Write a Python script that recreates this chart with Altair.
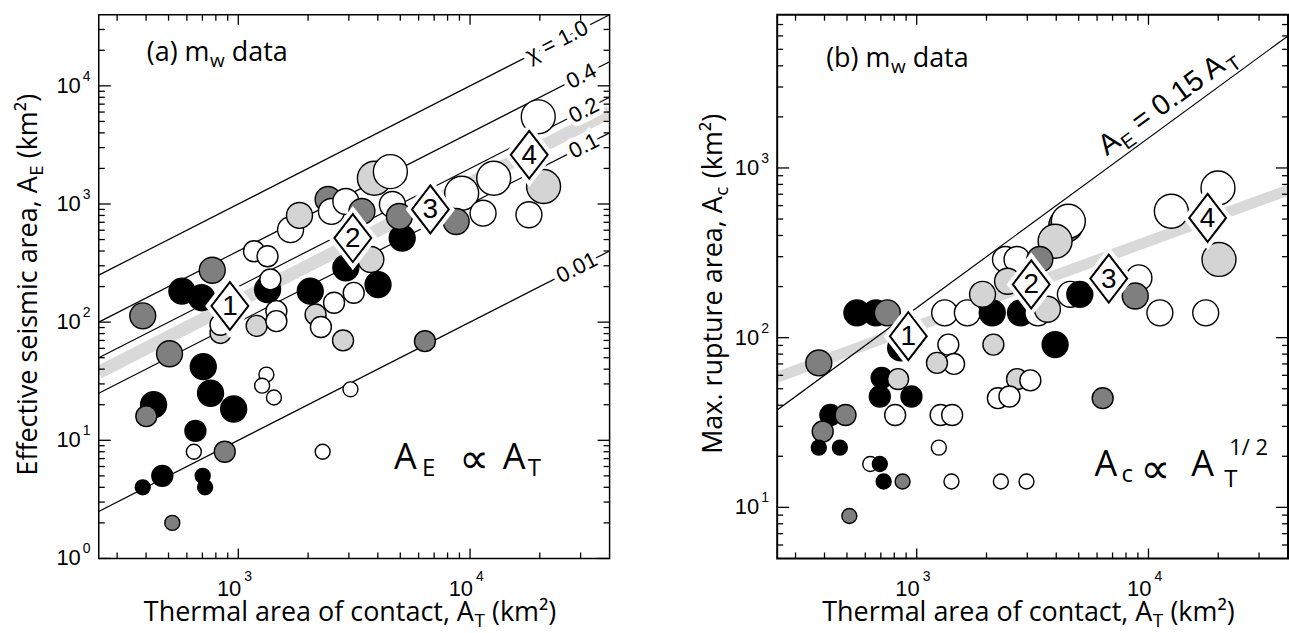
import altair as alt
import pandas as pd

# ---------------------------------------------------------------------------
# m_w earthquake data, areas in km^2
# shade: k = black, d = dark grey, l = light grey, w = white
# mag:   symbol class, 1 (smallest) ... 4 (largest)
# ---------------------------------------------------------------------------
a_thermal = [387, 571, 695, 772, 505, 706, 838, 838, 1200, 1460, 1460, 1337, 1375, 1169, 1337,
             1681, 1837, 2044, 2155, 2272, 2831, 2589, 3148, 2911, 3732, 4008, 5096, 6387, 1322, 1267,
             1425, 3048, 431, 401, 759, 955, 653, 643, 874, 2312, 470, 387, 702, 719, 519,
             2441, 2523, 2911, 3415, 3865, 4530, 4624, 4955, 8710, 9200, 11380, 12650, 17950, 19690, 20760]
a_seismic = [113, 183, 161, 275, 54, 42, 81, 95, 93, 124, 102, 189, 230, 398, 361,
             606, 800, 183, 116, 91, 70, 146, 177, 288, 339, 208, 515, 69, 36, 29,
             23, 27, 20, 16, 25, 18.4, 12, 8, 8, 8, 5, 4, 5, 4, 2,
             1091, 865, 1050, 865, 1651, 1879, 990, 785, 711, 1233, 836, 1651, 811, 5470, 1406]
a_shade = ['d', 'k', 'k', 'd', 'd', 'k', 'l', 'w', 'l', 'w', 'w', 'k', 'w', 'w', 'w',
           'w', 'l', 'k', 'l', 'w', 'l', 'w', 'w', 'k', 'l', 'k', 'k', 'd', 'w', 'w',
           'w', 'w', 'k', 'd', 'k', 'k', 'k', 'w', 'd', 'w', 'k', 'k', 'k', 'k', 'd',
           'd', 'w', 'w', 'd', 'l', 'w', 'w', 'd', 'd', 'w', 'w', 'w', 'w', 'w', 'l']
a_mag = [3, 3, 3, 3, 3, 3, 2, 2, 2, 2, 2, 3, 2, 2, 2,
         3, 3, 3, 2, 2, 2, 2, 2, 3, 3, 3, 3, 2, 1, 1,
         1, 1, 3, 2, 3, 3, 2, 1, 2, 1, 2, 1, 1, 1, 1,
         3, 3, 3, 3, 4, 4, 3, 3, 3, 4, 3, 4, 3, 4, 4]

b_thermal = [378, 552, 667, 747, 853, 1320, 1654, 2118, 1923, 1369, 1449, 1223, 2142, 2416, 2709,
             2466, 3398, 2805, 3334, 3664, 4400, 4510, 3955, 4603, 5055, 3955, 9095, 8767, 11200, 17660,
             20150, 12550, 19950, 2709, 3092, 2240, 2512, 6346, 706, 831, 693, 949, 807, 424, 493,
             393, 378, 466, 1268, 1422, 1246, 630, 693, 720, 869, 1412, 2307, 2976, 512]
b_rupture = [71, 140, 140, 140, 87, 140, 140, 140, 180, 91, 70, 71, 91, 289, 289,
             215, 289, 140, 140, 147, 460, 486, 370, 180, 180, 91, 225, 176, 140, 140,
             289, 556, 762, 57, 56, 44, 45, 44, 58, 57, 45, 45, 35, 35, 35,
             28, 22.5, 22.5, 35, 35, 22.5, 18, 18, 14.2, 14.2, 14.2, 14.2, 14.2, 8.9]
b_shade = ['d', 'k', 'k', 'd', 'k', 'w', 'w', 'k', 'l', 'w', 'w', 'l', 'l', 'w', 'w',
           'l', 'd', 'k', 'w', 'l', 'd', 'w', 'l', 'w', 'k', 'k', 'w', 'd', 'w', 'w',
           'l', 'w', 'w', 'l', 'w', 'w', 'w', 'd', 'k', 'l', 'k', 'k', 'w', 'k', 'd',
           'd', 'k', 'k', 'w', 'w', 'w', 'w', 'k', 'k', 'd', 'w', 'w', 'w', 'd']
b_mag = [3, 3, 3, 3, 3, 3, 3, 3, 3, 2, 2, 2, 2, 3, 3,
         3, 3, 3, 3, 3, 4, 4, 4, 3, 3, 3, 3, 3, 3, 3,
         4, 4, 4, 2, 2, 2, 2, 2, 2, 2, 2, 2, 2, 2, 2,
         2, 1, 1, 2, 2, 1, 1, 1, 1, 1, 1, 1, 1, 1]

# binned averages (numbered diamonds)
bin_id = ["1", "2", "3", "4"]
bin_thermal = [920, 3120, 6740, 18000]
bin_seismic = [137, 515, 900, 2610]
bin_rupture = [102, 206, 223, 508]

# reference lines A_E = chi * A_T and where their labels sit
chi_vals = [1.0, 0.4, 0.2, 0.1, 0.01]
chi_text = ["\u03c7 = 1.0", "0.4", "0.2", "0.1", "0.01"]
chi_label_at = [23700, 30200, 31000, 31000, 28900]

# trend bands: A_E = 0.15 A_T  and  A_c = 3.7 A_T^(1/2)
fit_a_coef = 0.15
fit_b_coef = 3.7
ref_b_coef = 0.15   # A_E = 0.15 A_T drawn in panel (b)

# axis ranges and ticks
x_domain = [250, 40000]
ya_domain = [1, 40000]
yb_domain = [5, 8000]
x_major = [1000, 10000]
x_minor = [300, 400, 500, 600, 700, 800, 900, 2000, 3000, 4000, 5000, 6000, 7000, 8000, 9000, 20000, 30000]
ya_major = [1, 10, 100, 1000, 10000]
ya_exp = ["0", "1", "2", "3", "4"]
ya_minor = [2, 3, 4, 5, 6, 7, 8, 9, 20, 30, 40, 50, 60, 70, 80, 90, 200, 300, 400, 500, 600, 700, 800, 900,
            2000, 3000, 4000, 5000, 6000, 7000, 8000, 9000, 20000, 30000]
yb_major = [10, 100, 1000]
yb_exp = ["1", "2", "3"]
yb_minor = [6, 7, 8, 9, 20, 30, 40, 50, 60, 70, 80, 90, 200, 300, 400, 500, 600, 700, 800, 900,
            2000, 3000, 4000, 5000, 6000, 7000]
x_exp = ["3", "4"]

W, H = 512, 545
HELV = "Liberation Sans"
SANS = "Open Sans"
SP = 7.0            # width of a space at the 27 px title size
SHADE_DOMAIN = ['k', 'd', 'l', 'w']
SHADE_RANGE = ['#000000', '#7f7f7f', '#d4d4d4', '#ffffff']
DIAMOND = "M0,-1L0.77,0L0,1L-0.77,0Z"
ONE = pd.DataFrame({"k": [0]})


def xenc(field="x"):
    return alt.X(f"{field}:Q", scale=alt.Scale(type="log", domain=x_domain, nice=False), axis=None)


def yenc(field, dom):
    return alt.Y(f"{field}:Q", scale=alt.Scale(type="log", domain=dom, nice=False), axis=None)


def note(text, x, y, size, font=SANS, align="left", baseline="alphabetic", angle=0, dx=0, dy=0):
    props = dict(text=text, align=align, baseline=baseline, fontSize=size, font=font,
                 dx=dx, dy=dy, color="black")
    if angle:
        props["angle"] = angle
    return alt.Chart(ONE).mark_text(**props).encode(x=alt.value(x), y=alt.value(y))


def anchor(x, y1, y2):
    # thin white rule that fixes the outer extent of a panel
    return alt.Chart(ONE).mark_rule(color="white", strokeWidth=0.5).encode(
        x=alt.value(x), y=alt.value(y1), y2=alt.value(y2))


def ticks_and_labels(ydom, y_major, y_minor, y_exp, frame_w):
    layers = []
    for vals, ln in ((x_major, 10), (x_minor, 6)):
        base = alt.Chart(pd.DataFrame({"v": vals})).mark_rule(color="black", strokeWidth=1.3)
        layers.append(base.encode(x=xenc("v"), y=alt.value(H), y2=alt.value(H - ln)))
        layers.append(base.encode(x=xenc("v"), y=alt.value(0), y2=alt.value(ln)))
    for vals, ln in ((y_major, 12), (y_minor, 6)):
        base = alt.Chart(pd.DataFrame({"v": vals})).mark_rule(color="black", strokeWidth=1.3)
        layers.append(base.encode(y=yenc("v", ydom), x=alt.value(0), x2=alt.value(ln)))
        layers.append(base.encode(y=yenc("v", ydom), x=alt.value(W), x2=alt.value(W - ln)))
    layers.append(alt.Chart(ONE).mark_rect(fill="white", fillOpacity=0, stroke="black",
                                           strokeWidth=frame_w).encode(
        x=alt.value(0), x2=alt.value(W), y=alt.value(0), y2=alt.value(H)))
    ydf = pd.DataFrame({"v": y_major, "e": y_exp})
    layers.append(alt.Chart(ydf).mark_text(text="10", align="right", baseline="middle",
                                           fontSize=22, font=HELV).encode(
        y=yenc("v", ydom), x=alt.value(-18)))
    layers.append(alt.Chart(ydf).mark_text(align="left", baseline="middle", fontSize=14,
                                           font=HELV, dy=-9).encode(
        y=yenc("v", ydom), x=alt.value(-16), text="e:N"))
    xdf = pd.DataFrame({"v": x_major, "e": x_exp})
    layers.append(alt.Chart(xdf).mark_text(text="10", align="right", baseline="middle",
                                           fontSize=22, font=HELV, dx=3).encode(
        x=xenc("v"), y=alt.value(H + 31)))
    layers.append(alt.Chart(xdf).mark_text(align="left", baseline="middle", fontSize=14,
                                           font=HELV, dx=6).encode(
        x=xenc("v"), y=alt.value(H + 19), text="e:N"))
    return layers


def circles(xv, yv, shade, mag, ydom):
    df = pd.DataFrame({"x": xv, "y": yv, "shade": shade, "mag": mag})
    return alt.Chart(df).mark_circle(opacity=1, stroke="black", strokeWidth=1.4).encode(
        x=xenc("x"), y=yenc("y", ydom),
        color=alt.Color("shade:N", scale=alt.Scale(domain=SHADE_DOMAIN, range=SHADE_RANGE), legend=None),
        size=alt.Size("mag:Q", scale=alt.Scale(domain=[1, 2, 3, 4], range=[225, 441, 676, 1156]), legend=None),
        order=alt.Order("mag:Q", sort="descending"),
    )


def diamonds(yv, ydom):
    df = pd.DataFrame({"x": bin_thermal, "y": yv, "id": bin_id})
    enc = dict(x=xenc("x"), y=yenc("y", ydom))
    halo = alt.Chart(df).mark_point(shape=DIAMOND, size=2304, filled=True, fill="white",
                                    stroke="white", strokeWidth=10, opacity=1).encode(**enc)
    body = alt.Chart(df).mark_point(shape=DIAMOND, size=2304, filled=True, fill="white",
                                    stroke="black", strokeWidth=2, opacity=1).encode(**enc)
    num = alt.Chart(df).mark_text(fontSize=28, font=HELV, baseline="middle", dy=1).encode(
        text="id:N", **enc)
    return [halo, body, num]


def band(points, ydom, width):
    df = pd.DataFrame({"x": [p[0] for p in points], "y": [p[1] for p in points]})
    return alt.Chart(df).mark_line(color="#d9d9d9", strokeWidth=width, strokeCap="butt", clip=True).encode(
        x=xenc("x"), y=yenc("y", ydom))


def rot_title(main, sub, tail, x, y):
    # vertical axis title written bottom-to-top, with a subscript
    sub_w = 0.56 * 19 + 0.5
    return [
        note(main, x, y, 27, align="right", angle=270),
        note(sub, x, y, 19, align="left", angle=270, dx=0.5, dy=6),
        note(tail, x, y, 27, align="left", angle=270, dx=sub_w + SP),
    ]


def x_title():
    x, y = 376, H + 63
    return [
        note("Thermal area of contact, A", x, y, 27, align="right"),
        note("T", x + 0.5, y + 6, 19),
        note("(km\u00b2)", x + 11.1 + SP, y, 27),
    ]


def tag(letter, x, y):
    return [
        note(f"({letter}) m", x, y, 27, align="right"),
        note("w", x + 0.5, y + 6, 19),
        note("data", x + 15.3 + SP, y, 27),
    ]


# ----------------------------- panel (a) -----------------------------------
fit_a = [(x_domain[0], fit_a_coef * x_domain[0]), (x_domain[1], fit_a_coef * x_domain[1])]
chi_lines = pd.DataFrame({
    "x": [v for c in chi_vals for v in x_domain],
    "y": [c * v for c in chi_vals for v in x_domain],
    "chi": [c for c in chi_vals for _ in x_domain],
})
chi_labels = pd.DataFrame({
    "x": chi_label_at,
    "y": [c * x for c, x in zip(chi_vals, chi_label_at)],
    "t": chi_text,
})
lbl_enc = dict(x=xenc("x"), y=yenc("y", ya_domain), text="t:N")

layers_a = [
    anchor(-98.3, -13.3, 620),
    anchor(541.7, -13.3, 0),
    band(fit_a, ya_domain, 13),
    alt.Chart(chi_lines).mark_line(color="black", strokeWidth=1.2, clip=True).encode(
        x=xenc("x"), y=yenc("y", ya_domain), detail="chi:N"),
    alt.Chart(chi_labels).mark_text(angle=333, fontSize=22, font=HELV, baseline="middle",
                                    color="white", stroke="white", strokeWidth=9).encode(**lbl_enc),
    alt.Chart(chi_labels).mark_text(angle=333, fontSize=22, font=HELV, baseline="middle",
                                    color="black").encode(**lbl_enc),
    circles(a_thermal, a_seismic, a_shade, a_mag, ya_domain),
    *diamonds(bin_seismic, ya_domain),
    *ticks_and_labels(ya_domain, ya_major, ya_minor, ya_exp, 1.5),
    *rot_title("Effective seismic area, A", "E", "(km\u00b2)", -62, 162),
    *x_title(),
    *tag("a", 111, 46),
    note("A", 296, 455, 36),
    note("E", 324, 462, 24),
    note("\u221d", 361, 446, 42, font="DejaVu Sans", baseline="middle"),
    note("A", 405, 455, 36),
    note("T", 430, 462, 24),
]
panel_a = alt.layer(*layers_a).properties(width=W, height=H)

# ----------------------------- panel (b) -----------------------------------
fit_b = [(x_domain[0], fit_b_coef * x_domain[0] ** 0.5), (x_domain[1], fit_b_coef * x_domain[1] ** 0.5)]
ref_b = pd.DataFrame({"x": x_domain, "y": [ref_b_coef * v for v in x_domain]})
ref_lbl_x = 7000
ref_lbl = pd.DataFrame({"x": [ref_lbl_x], "y": [ref_b_coef * ref_lbl_x]})


def ref_piece(text, size, dx, dy):
    return alt.Chart(ref_lbl).mark_text(text=text, angle=324, fontSize=size, font=HELV, align="left",
                                        baseline="alphabetic", dx=dx, dy=dy).encode(
        x=xenc("x"), y=yenc("y", yb_domain))


layers_b = [
    anchor(-137, -9.3, 624),
    band(fit_b, yb_domain, 11),
    alt.Chart(ref_b).mark_line(color="black", strokeWidth=1.2, clip=True).encode(
        x=xenc("x"), y=yenc("y", yb_domain)),
    ref_piece("A", 29, 0, -10),
    ref_piece("E", 20, 20, -3),
    ref_piece("= 0.15 A", 29, 41.5, -10),
    ref_piece("T", 20, 151.5, -3),
    circles(b_thermal, b_rupture, b_shade, b_mag, yb_domain),
    *diamonds(bin_rupture, yb_domain),
    *ticks_and_labels(yb_domain, yb_major, yb_minor, yb_exp, 2),
    *rot_title("Max. rupture area, A", "c", "(km\u00b2)", -55, 182),
    *x_title(),
    *tag("b", 113.5, 52),
    note("A", 318, 462, 36),
    note("c", 345, 468, 24),
    note("\u221d", 364, 456, 42, font="DejaVu Sans", baseline="middle"),
    note("A", 415, 462, 36),
    note("T", 448, 473, 24),
    note("1/ 2", 453, 441, 22),
]
panel_b = alt.layer(*layers_b).properties(width=W, height=H)

chart = alt.hconcat(panel_a, panel_b, spacing=0).properties(
    padding=0, background="white"
).configure_view(strokeWidth=0)

chart.save("out.html", embed_options={"renderer": "svg", "actions": False})
